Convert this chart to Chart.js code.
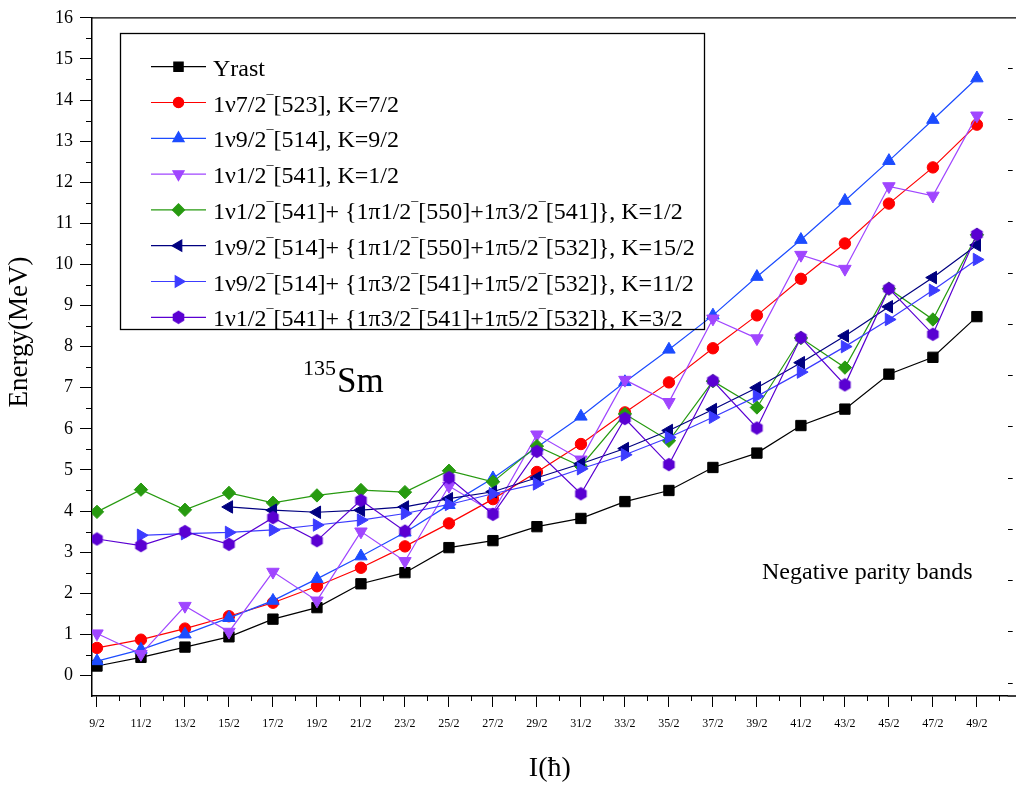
<!DOCTYPE html>
<html>
<head>
<meta charset="utf-8">
<script src="https://cdn.jsdelivr.net/npm/chart.js@4.4.1/dist/chart.umd.min.js"></script>
<style>
  html, body { margin: 0; padding: 0; background: #fff; }
  #wrap { width: 1016px; height: 785px; }
</style>
</head>
<body>
<div id="wrap"><canvas id="myChart" width="1016" height="785"></canvas></div>
<script>
// spin values on the x axis
const spins = ['9/2', '11/2', '13/2', '15/2', '17/2', '19/2', '21/2', '23/2', '25/2', '27/2', '29/2',
  '31/2', '33/2', '35/2', '37/2', '39/2', '41/2', '43/2', '45/2', '47/2', '49/2'];

// energies (MeV), one value per spin
const yrast  = [0.23, 0.44, 0.69, 0.94, 1.37, 1.65, 2.23, 2.50, 3.11, 3.28, 3.62, 3.82, 4.23, 4.50, 5.06, 5.41, 6.08, 6.48, 7.33, 7.74, 8.73];
const k7_2   = [0.67, 0.87, 1.14, 1.44, 1.77, 2.17, 2.62, 3.14, 3.70, 4.29, 4.95, 5.63, 6.40, 7.13, 7.96, 8.76, 9.65, 10.51, 11.48, 12.36, 13.40];
const k9_2   = [0.35, 0.63, 1.00, 1.40, 1.82, 2.35, 2.90, 3.48, 4.15, 4.80, 5.55, 6.30, 7.14, 7.93, 8.76, 9.70, 10.60, 11.55, 12.52, 13.52, 14.53];
const k1_2   = [1.02, 0.52, 1.69, 1.06, 2.52, 1.82, 3.50, 2.78, 4.61, 3.97, 5.86, 5.25, 7.19, 6.65, 8.68, 8.20, 10.23, 9.89, 11.90, 11.67, 13.62];
const k1_2b  = [3.98, 4.52, 4.03, 4.44, 4.20, 4.38, 4.51, 4.46, 4.98, 4.71, 5.58, 5.09, 6.36, 5.71, 7.16, 6.52, 8.21, 7.49, 9.41, 8.66, 10.72];
const k15_2  = [null, null, null, 4.10, 4.02, 3.97, 4.02, 4.10, 4.30, 4.47, 4.81, 5.15, 5.52, 5.96, 6.47, 7.00, 7.61, 8.26, 8.97, 9.68, 10.47];
const k11_2  = [null, 3.41, 3.45, 3.48, 3.54, 3.66, 3.78, 3.94, 4.16, 4.42, 4.66, 5.03, 5.37, 5.79, 6.28, 6.79, 7.38, 8.00, 8.66, 9.37, 10.12];
const k3_2   = [3.32, 3.16, 3.50, 3.19, 3.84, 3.28, 4.26, 3.51, 4.81, 3.92, 5.45, 4.42, 6.25, 5.13, 7.17, 6.02, 8.22, 7.07, 9.41, 8.30, 10.73];

const bandNames = [
  'Yrast',
  '1ν7/2¯[523], K=7/2',
  '1ν9/2¯[514], K=9/2',
  '1ν1/2¯[541], K=1/2',
  '1ν1/2¯[541]+ {1π1/2¯[550]+1π3/2¯[541]}, K=1/2',
  '1ν9/2¯[514]+ {1π1/2¯[550]+1π5/2¯[532]}, K=15/2',
  '1ν9/2¯[514]+ {1π3/2¯[541]+1π5/2¯[532]}, K=11/2',
  '1ν1/2¯[541]+ {1π3/2¯[541]+1π5/2¯[532]}, K=3/2'
];
const bandValues = [yrast, k7_2, k9_2, k1_2, k1_2b, k15_2, k11_2, k3_2];

// tick values
const energyTicks = [0, 1, 2, 3, 4, 5, 6, 7, 8, 9, 10, 11, 12, 13, 14, 15, 16];
const rightTicks = [0, 1, 2, 3, 4, 5, 6, 7, 8, 9, 10, 11, 12];

const serif = "'Liberation Serif', 'Times New Roman', 'DejaVu Serif', serif";

function hexagon(color, r) {
  const c = document.createElement('canvas');
  const s = Math.round(r * 2 + 2);
  c.width = s; c.height = s;
  const g = c.getContext('2d');
  g.fillStyle = color;
  g.beginPath();
  for (let k = 0; k < 6; k++) {
    const a = Math.PI / 3 * k - Math.PI / 2;
    const px = s / 2 + r * Math.cos(a), py = s / 2 + r * Math.sin(a);
    if (k === 0) g.moveTo(px, py); else g.lineTo(px, py);
  }
  g.closePath();
  g.fill();
  return c;
}

const looks = [
  { color: '#000000', style: 'rect', radius: 7.3, rot: 0 },
  { color: '#ff0000', style: 'circle', radius: 5.7, rot: 0 },
  { color: '#1c4cff', style: 'triangle', radius: 7.2, rot: 0 },
  { color: '#a046ff', style: 'triangle', radius: 7.2, rot: 180 },
  { color: '#279a10', style: 'rectRot', radius: 6.7, rot: 0 },
  { color: '#000080', style: 'triangle', radius: 7.2, rot: 270 },
  { color: '#3c3cff', style: 'triangle', radius: 7.2, rot: 90 },
  { color: '#5a00d2', style: hexagon('#5a00d2', 6.7), radius: 6.7, rot: 0 }
];

const datasets = bandValues.map((vals, i) => ({
  label: bandNames[i],
  data: vals.map((v, j) => ({ x: j, y: v })),
  borderColor: looks[i].color,
  backgroundColor: looks[i].color,
  borderWidth: 1.2,
  pointStyle: looks[i].style,
  pointRadius: looks[i].radius,
  pointRotation: looks[i].rot,
  pointBorderWidth: 1,
  pointBackgroundColor: looks[i].color,
  pointBorderColor: looks[i].color,
  order: bandValues.length - 1 - i,
  spanGaps: false
}));

// legend label: the parity bar is set small and raised
function drawLabel(ctx, text, x, y) {
  const parts = text.split('¯');
  parts.forEach((part, i) => {
    ctx.font = '24px ' + serif;
    ctx.fillText(part, x, y);
    x += ctx.measureText(part).width;
    if (i < parts.length - 1) {
      ctx.font = '14px ' + serif;
      ctx.fillText('¯', x, y - 7);
      x += ctx.measureText('¯').width;
    }
  });
}

const decorations = {
  id: 'decorations',
  afterDraw(chart) {
    const ctx = chart.ctx;
    const area = chart.chartArea;
    const sx = chart.scales.x, sy = chart.scales.y;
    ctx.save();
    ctx.strokeStyle = '#000';
    ctx.lineWidth = 1.3;

    // frame: top line and bottom extension
    ctx.beginPath();
    ctx.moveTo(area.left, area.top);
    ctx.lineTo(chart.width, area.top);
    ctx.moveTo(area.right, area.bottom);
    ctx.lineTo(chart.width, area.bottom);
    ctx.stroke();

    // minor ticks
    ctx.lineWidth = 1;
    ctx.beginPath();
    for (let k = 0; k < spins.length; k++) {
      const px = Math.round(sx.getPixelForValue(k + 0.5)) + 0.5;
      ctx.moveTo(px, area.bottom);
      ctx.lineTo(px, area.bottom + 5);
    }
    for (let v = 0; v < 16; v++) {
      const py = Math.round(sy.getPixelForValue(v + 0.5)) + 0.5;
      ctx.moveTo(area.left, py);
      ctx.lineTo(area.left - 6, py);
    }
    ctx.stroke();

    // y title
    ctx.fillStyle = '#000';
    ctx.font = '27px ' + serif;
    ctx.textAlign = 'center';
    ctx.textBaseline = 'middle';
    ctx.save();
    ctx.translate(20, 332);
    ctx.rotate(-Math.PI / 2);
    ctx.fillText('Energy(MeV)', 0, 0);
    ctx.restore();

    // nucleus label
    ctx.textAlign = 'left';
    ctx.textBaseline = 'alphabetic';
    ctx.font = '22px ' + serif;
    ctx.fillText('135', 303, 375);
    ctx.font = '35px ' + serif;
    ctx.fillText('Sm', 337, 392);

    ctx.font = '24px ' + serif;
    ctx.fillText('Negative parity bands', 762, 579);

    // legend box
    ctx.lineWidth = 1.3;
    ctx.strokeRect(120.5, 33.5, 584, 296);
    chart.data.datasets.forEach((ds, i) => {
      const ry = 66.7 + 35.8 * i;
      ctx.strokeStyle = ds.borderColor;
      ctx.fillStyle = ds.borderColor;
      ctx.lineWidth = 1.2;
      ctx.beginPath();
      ctx.moveTo(151, ry);
      ctx.lineTo(206, ry);
      ctx.stroke();
      Chart.helpers.drawPoint(ctx, {
        pointStyle: ds.pointStyle,
        rotation: ds.pointRotation,
        radius: ds.pointRadius * 0.9,
        borderWidth: 1
      }, 178.5, ry);
      ctx.fillStyle = '#000';
      drawLabel(ctx, ds.label, 213, ry + 9);
    });
    ctx.restore();
  }
};

const config = {
  type: 'line',
  data: { datasets: datasets },
  options: {
    responsive: false,
    animation: false,
    devicePixelRatio: 1,
    layout: { padding: { top: 12, right: 0, left: 0, bottom: 0 } },
    plugins: {
      legend: { display: false },
      tooltip: { enabled: false }
    },
    scales: {
      x: {
        type: 'linear',
        position: 'bottom',
        min: -0.113,
        max: 20.70,
        afterBuildTicks: (scale) => { scale.ticks = spins.map((s, i) => ({ value: i })); },
        afterFit: (scale) => { scale.height = 89; },
        ticks: {
          callback: (v) => spins[v],
          font: { family: serif, size: 12 },
          color: '#000',
          padding: 10,
          maxRotation: 0,
          autoSkip: false
        },
        grid: { drawOnChartArea: false, tickLength: 11, tickColor: '#000', tickWidth: 1 },
        border: { color: '#000', width: 1.5 },
        title: {
          display: true,
          text: 'I(ħ)',
          font: { family: serif, size: 28 },
          color: '#000',
          padding: { top: 0, bottom: 0 }
        }
      },
      y: {
        type: 'linear',
        position: 'left',
        min: -0.5,
        max: 16,
        afterBuildTicks: (scale) => { scale.ticks = energyTicks.map(v => ({ value: v })); },
        afterFit: (scale) => { scale.width = 92; },
        ticks: {
          font: { family: serif, size: 18 },
          color: '#000',
          padding: 7
        },
        grid: { drawOnChartArea: false, tickLength: 12, tickColor: '#000', tickWidth: 1 },
        border: { color: '#000', width: 1.5 }
      },
      y2: {
        type: 'linear',
        position: 'right',
        min: -0.249,
        max: 12.98,
        afterBuildTicks: (scale) => { scale.ticks = rightTicks.map(v => ({ value: v })); },
        afterFit: (scale) => { scale.width = 5; },
        ticks: { display: false },
        grid: { drawOnChartArea: false, tickLength: 5, tickColor: '#000', tickWidth: 1 },
        border: { display: false }
      }
    }
  },
  plugins: [decorations]
};

const ctx = document.getElementById('myChart').getContext('2d');
const myChart = new Chart(ctx, config);
</script>
</body>
</html>
